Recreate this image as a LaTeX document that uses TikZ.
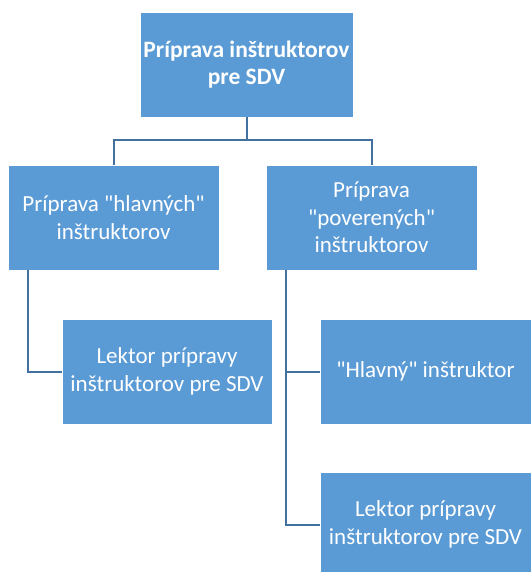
\documentclass[tikz,border=0pt]{standalone}
\usepackage{fontspec}
\setmainfont{Carlito}[Ligatures=TeXOff]
\definecolor{boxblue}{HTML}{5B9BD5}
\definecolor{linkblue}{HTML}{41719C}
\begin{document}
\begin{tikzpicture}[x=1pt,y=-1pt,
  orgbox/.style={rectangle, fill=boxblue, draw=white, line width=0.8pt, text=white,
    minimum width=211pt, minimum height=105pt, inner sep=1pt, align=center,
    font=\fontsize{23}{27.5}\selectfont},
  link/.style={draw=linkblue, line width=2pt}]
\useasboundingbox (0,0) rectangle (531,572);
\begin{scope}
\clip (0,0) rectangle (531,572);
\node[orgbox, minimum width=213pt, font=\fontsize{23.5}{27.5}\selectfont\bfseries] (top) at (246.5,64.5) {Príprava inštruktorov\\pre SDV};
\node[orgbox] (l1) at (113.5,217.5) {Príprava "hlavných"\\inštruktorov};
\node[orgbox] (r1) at (371.5,217.5) {Príprava\\"poverených"\\inštruktorov};
\node[orgbox, minimum width=210pt] (l2) at (167,371.5) {Lektor prípravy\\inštruktorov pre SDV};
\node[orgbox] (r2) at (425.5,371.5) {"Hlavný" inštruktor};
\node[orgbox] (r3) at (425.5,524.5) {Lektor prípravy\\inštruktorov pre SDV};
\coordinate (bus) at (246.5,140);
\draw[link] (top.south) -- (bus);
\draw[link] (bus) -| (l1.north);
\draw[link] (bus) -| (r1.north);
\draw[link] ([xshift=20pt]l1.south west) |- (l2.west);
\draw[link] ([xshift=20pt]r1.south west) |- (r2.west);
\draw[link] ([xshift=20pt]r1.south west) |- (r3.west);
\end{scope}
\end{tikzpicture}
\end{document}
